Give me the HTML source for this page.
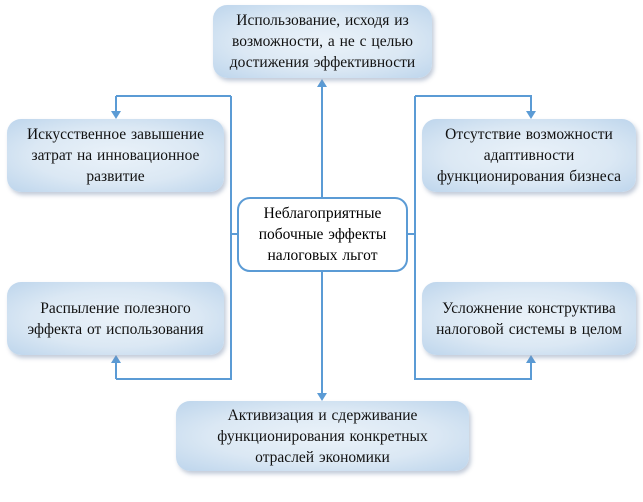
<!DOCTYPE html><html><head><meta charset="utf-8"><style>
body{margin:0;width:643px;height:502px;background:#fff;position:relative;overflow:hidden;font-family:"Liberation Serif",serif;}
.b{position:absolute;border-radius:14px;background:radial-gradient(ellipse at center,#eaf2f9 0%,#dbe8f4 55%,#bdd5ec 100%);box-shadow:2px 3px 4px rgba(120,140,170,.45);display:flex;align-items:center;justify-content:center;text-align:center;font-size:15.5px;line-height:21px;word-spacing:1px;color:#111;}
.c{position:absolute;left:237px;top:197px;width:167px;height:71px;border:2.5px solid #5b9bd5;border-radius:13px;background:#fff;display:flex;align-items:center;justify-content:center;text-align:center;font-size:15.5px;line-height:21px;word-spacing:1px;}
svg{position:absolute;left:0;top:0}
</style></head><body>
<svg width="643" height="502"><g stroke="#5b9bd5" stroke-width="2" fill="none">
<path d="M322 197V86M322 272V393M231 96V380M116 96H231V96M116 96V112M116 379H231M116 379V362M415 96V380M415 96H531V112M415 379H531V362M231 234H237M404 234H415"/></g>
<g fill="#5b9bd5"><path d="M317 87L322 79L327 87Z"/><path d="M317 393L322 401L327 393Z"/><path d="M111 111L116 119L121 111Z"/><path d="M526 111L531 119L536 111Z"/><path d="M111 363L116 355L121 363Z"/><path d="M526 363L531 355L536 363Z"/></g></svg>
<div class="b" style="left:213px;top:5px;width:219px;height:73px">Использование, исходя из<br>возможности, а не с целью<br>достижения эффективности</div>
<div class="b" style="left:7px;top:119px;width:217px;height:73px">Искусственное завышение<br>затрат на инновационное<br>развитие</div>
<div class="b" style="left:7px;top:282px;width:217px;height:73px">Распыление полезного<br>эффекта от использования</div>
<div class="b" style="left:422px;top:119px;width:214px;height:73px">Отсутствие возможности<br>адаптивности<br>функционирования бизнеса</div>
<div class="b" style="left:422px;top:282px;width:214px;height:73px">Усложнение конструктива<br>налоговой системы в целом</div>
<div class="b" style="left:176px;top:401px;width:293px;height:70px">Активизация и сдерживание<br>функционирования конкретных<br>отраслей экономики</div>
<div class="c">Неблагоприятные<br>побочные эффекты<br>налоговых льгот</div>
</body></html>
